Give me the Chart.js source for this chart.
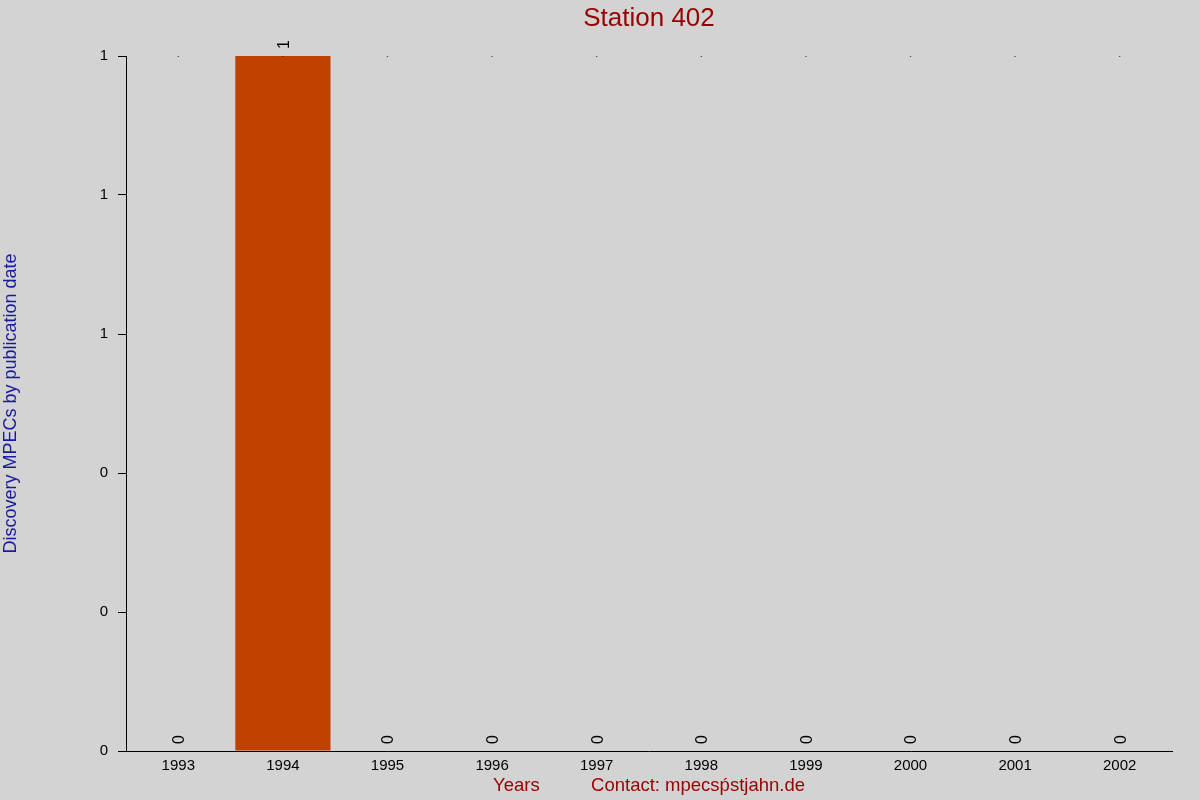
<!DOCTYPE html>
<html>
<head>
<meta charset="utf-8">
<script src="https://cdn.jsdelivr.net/npm/chart.js@4"></script>
<style>
  body { margin: 0; background: #d3d3d3; }
  #wrap { width: 1200px; height: 800px; }
</style>
</head>
<body>
<div id="wrap"><canvas id="graph" width="1200" height="800"></canvas></div>
<script>
// Chart data
var years = ['1993', '1994', '1995', '1996', '1997', '1998', '1999', '2000', '2001', '2002'];
var discoveries = [0, 1, 0, 0, 0, 0, 0, 0, 0, 0];
var topMarks = [1, 1, 1, 1, 1, 1, 1, 1, 1, 1];
var yTicks = [0, 0.2, 0.4, 0.6, 0.8, 1];

var FONT = "'Liberation Sans', Arial, sans-serif";

// Paint the grey background
var background = {
    id: 'background',
    beforeDraw: function(chart) {
        var c = chart.ctx;
        c.save();
        c.fillStyle = '#d3d3d3';
        c.fillRect(0, 0, chart.width, chart.height);
        c.restore();
    }
};

// Title centred over the plot area
var plotTitle = {
    id: 'plotTitle',
    afterDraw: function(chart) {
        var c = chart.ctx;
        var area = chart.chartArea;
        c.save();
        c.font = '26px ' + FONT;
        c.fillStyle = '#990000';
        c.textAlign = 'center';
        c.textBaseline = 'middle';
        c.fillText('Station 402', (area.left + area.right) / 2, 19);
        c.restore();
    }
};

// Rotated value labels above each bar
var valueLabels = {
    id: 'valueLabels',
    afterDatasetsDraw: function(chart) {
        var c = chart.ctx;
        var meta = chart.getDatasetMeta(0);
        c.save();
        c.font = '16px ' + FONT;
        c.fillStyle = '#000000';
        c.textAlign = 'left';
        c.textBaseline = 'middle';
        meta.data.forEach(function(bar, i) {
            c.save();
            c.translate(bar.x + 1.5, bar.y - 7);
            c.rotate(-Math.PI / 2);
            c.fillText(String(discoveries[i]), 0, 0);
            c.restore();
        });
        c.restore();
    }
};

var ctx = document.getElementById('graph').getContext('2d');
var myChart = new Chart(ctx, {
    type: 'bar',
    data: {
        labels: years,
        datasets: [{
            label: 'Discoveries',
            data: discoveries,
            backgroundColor: '#c04000',
            borderWidth: 0,
            categoryPercentage: 1,
            barPercentage: 0.91,
            order: 2
        },
        {
            type: 'line',
            label: 'Top',
            data: topMarks,
            showLine: false,
            pointRadius: 0.8,
            pointBackgroundColor: '#000000',
            pointBorderWidth: 0,
            order: 1
        }]
    },
    options: {
        responsive: false,
        animation: false,
        layout: { padding: { left: 0, top: 56, right: 28, bottom: 0 } },
        plugins: {
            legend: { display: false },
            tooltip: { enabled: false },
            title: { display: false }
        },
        scales: {
            x: {
                grid: { display: false, drawTicks: false, tickLength: 0 },
                border: { display: true, color: '#000000', width: 1 },
                ticks: { color: '#000000', font: { family: FONT, size: 15 }, padding: 6, maxRotation: 0 },
                title: {
                    display: true,
                    text: 'Years          Contact: mpecsṕstjahn.de',
                    color: '#990000',
                    font: { family: FONT, size: 18.5 },
                    padding: { top: 0, bottom: 3 }
                },
                afterFit: function(scale) { scale.height = 49; }
            },
            y: {
                min: 0,
                max: 1,
                afterBuildTicks: function(scale) {
                    scale.ticks = yTicks.map(function(v) { return { value: v }; });
                },
                grid: { display: true, drawOnChartArea: false, drawTicks: true, tickLength: 8, color: '#000000' },
                border: { display: true, color: '#000000', width: 1 },
                ticks: {
                    color: '#000000',
                    font: { family: FONT, size: 15 },
                    padding: 10,
                    callback: function(value) { return Math.round(value).toFixed(0); }
                },
                title: {
                    display: true,
                    text: 'Discovery MPECs by publication date',
                    color: '#1a1aa0',
                    font: { family: FONT, size: 18 },
                    padding: { top: 0, bottom: 0 }
                },
                afterFit: function(scale) { scale.width = 126; }
            }
        }
    },
    plugins: [background, plotTitle, valueLabels]
});
</script>
</body>
</html>
